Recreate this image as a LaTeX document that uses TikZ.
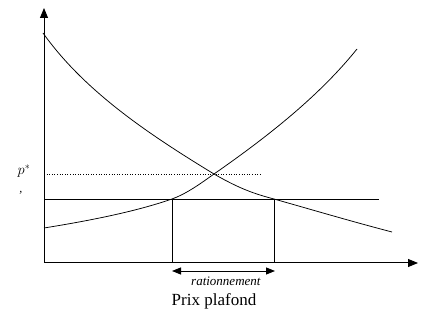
\documentclass[tikz,border=0pt]{standalone}
\usepackage{fontspec}
\setmainfont{Liberation Serif}
\usetikzlibrary{arrows.meta}
\begin{document}
\begin{tikzpicture}[x=1pt,y=-1pt,
  axis/.style={line width=1pt,-{Triangle[length=10pt,width=8pt]}},
  curve/.style={line width=0.75pt},
  lbl/.style={inner sep=0pt}]
\useasboundingbox (0,0) rectangle (423,320);
\coordinate (O) at (44,263);
\coordinate (ytip) at (44,8);
\coordinate (xtip) at (418,263);
\draw[axis] (O) -- (ytip);
\draw[axis] (O) -- (xtip);
% demand
\draw[curve] (43,33) .. controls (85,92) and (150,135) .. (214,174)
  .. controls (240,189) and (255,194) .. (274,199)
  .. controls (320,212) and (350,221) .. (392,232);
% supply
\draw[curve] (44,228) .. controls (100,219) and (140,210) .. (172,199)
  .. controls (186,194) and (200,184) .. (214,174)
  .. controls (270,135) and (320,95) .. (357,49);
% equilibrium dotted
\coordinate (pstar) at (44,174);
\coordinate (dotend) at (262,174);
\draw[dotted,line width=0.6pt] (pstar) -- (dotend);
% ceiling line
\coordinate (c0) at (44,199);
\coordinate (c1) at (379,199);
\draw[line width=0.9pt] (c0) -- (c1);
\coordinate (a) at (172,199);
\coordinate (b) at (274,199);
\coordinate (a0) at (172,263);
\coordinate (b0) at (274,263);
\draw[line width=0.8pt] (a) -- (a0);
\draw[line width=0.8pt] (b) -- (b0);
\coordinate (r0) at (172,271);
\coordinate (r1) at (275,271);
\draw[line width=0.9pt,{Triangle[length=9pt,width=7pt]}-{Triangle[length=9pt,width=7pt]}] (r0) -- (r1);
\node[lbl] (rat) at (226,281) {\fontsize{13}{15}\selectfont\textit{rationnement}};
\node[lbl] (pp) at (214,301) {\fontsize{17}{19}\selectfont Prix plafond};
\node[lbl] (plab) at (24,171) {\fontsize{14}{16}\selectfont$p^{*}$};
\node[lbl] (tick) at (21,193) {\fontsize{12}{14}\selectfont\textit{,}};
\end{tikzpicture}
\end{document}
